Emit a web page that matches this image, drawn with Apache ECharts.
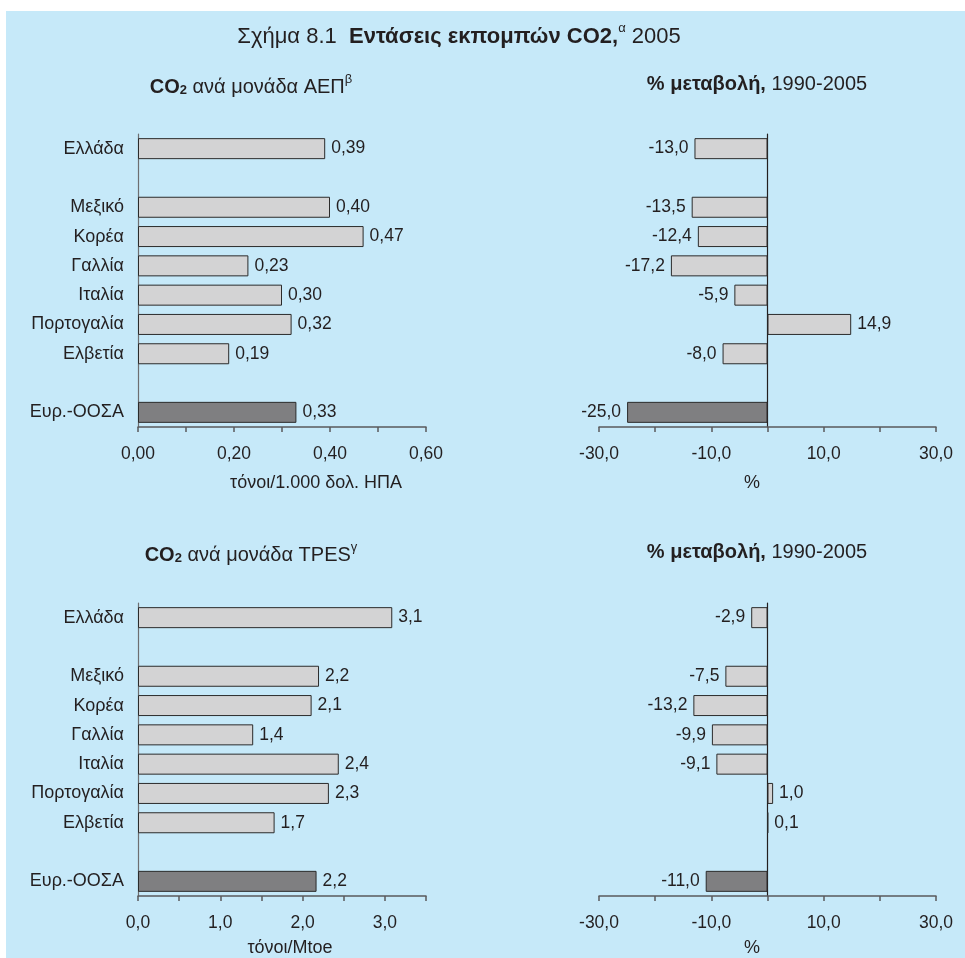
<!DOCTYPE html>
<html>
<head>
<meta charset="utf-8">
<script src="https://cdn.jsdelivr.net/npm/echarts@6/dist/echarts.min.js"></script>
<style>
  html, body { margin: 0; padding: 0; background: #fff; }
  #main { width: 965px; height: 958px; }
</style>
</head>
<body>
<div id="main"></div>
<script>
// Σχήμα 8.1 - δεδομένα
var countries = ['Ελλάδα', 'Μεξικό', 'Κορέα', 'Γαλλία', 'Ιταλία', 'Πορτογαλία', 'Ελβετία', 'Ευρ.-ΟΟΣΑ'];
// θέσεις στον άξονα (με κενά μετά την Ελλάδα και πριν τον ΟΟΣΑ)
var slots = [0, 2, 3, 4, 5, 6, 7, 9];
var gdpIntensity = [0.39, 0.40, 0.47, 0.23, 0.30, 0.32, 0.19, 0.33];
var gdpChange = [-13.0, -13.5, -12.4, -17.2, -5.9, 14.9, -8.0, -25.0];
var tpesIntensity = [3.09, 2.20, 2.11, 1.40, 2.44, 2.32, 1.66, 2.17];
var tpesChange = [-2.9, -7.5, -13.2, -9.9, -9.1, 1.0, 0.1, -11.0];

var textColor = '#231f20';
var fontFamily = 'Liberation Sans, Arial, sans-serif';

var categories = [];
for (var i = 0; i < 10; i++) categories.push(' '.repeat(i + 1));
slots.forEach(function (s, k) { categories[s] = countries[k]; });

function comma(v, d) {
    return v.toFixed(d).replace('.', ',');
}

function buildData(values, decimals) {
    var out = [];
    for (var i = 0; i < 10; i++) out.push('-');
    values.forEach(function (v, k) {
        var last = k === values.length - 1;
        out[slots[k]] = {
            value: v,
            itemStyle: { color: last ? '#7f7f81' : '#d3d3d4' },
            label: { position: v < 0 ? 'left' : 'right', formatter: comma(v, decimals) }
        };
    });
    return out;
}

var grids = [
    { left: 138, top: 134, width: 288, height: 293 },
    { left: 599, top: 134, width: 337, height: 293 },
    { left: 138, top: 603, width: 288, height: 293 },
    { left: 599, top: 603, width: 337, height: 293 }
];

function xAxisFor(idx, min, max, interval, showFn, dec) {
    return {
        type: 'value', gridIndex: idx, min: min, max: max, interval: interval,
        splitLine: { show: false },
        axisLine: { show: true, lineStyle: { color: '#5a5a5c', width: 1.5 } },
        axisTick: { show: true, length: 5, lineStyle: { color: '#5a5a5c', width: 1.5 } },
        axisLabel: {
            color: textColor, fontSize: 17.5, fontFamily: fontFamily, margin: 18,
            formatter: function (v) { return showFn(v) ? comma(v, dec) : ''; }
        }
    };
}

function yAxisFor(idx, showLabels, lineColor) {
    return {
        type: 'category', gridIndex: idx, data: categories, inverse: true,
        axisTick: { show: false },
        axisLine: { show: true, onZero: true, lineStyle: { color: lineColor, width: 1.2 } },
        axisLabel: {
            show: showLabels, color: textColor, fontSize: 18, fontFamily: fontFamily,
            margin: 14, interval: 0
        }
    };
}

function barSeries(idx, values, dec) {
    return {
        type: 'bar', xAxisIndex: idx, yAxisIndex: idx, barWidth: 21,
        data: buildData(values, dec),
        itemStyle: { borderColor: '#2b2b2b', borderWidth: 1 },
        label: { show: true, distance: 6, color: textColor, fontSize: 17.5, fontFamily: fontFamily },
        emphasis: { disabled: true },
        animation: false
    };
}

function subTitle(x, y, text) {
    return {
        type: 'text', x: x, y: y,
        style: {
            text: text, align: 'center', verticalAlign: 'middle', fill: textColor,
            rich: {
                b: { fontSize: 20, fontWeight: 'bold', fontFamily: fontFamily, fill: textColor, lineHeight: 24, verticalAlign: 'bottom' },
                n: { fontSize: 20, fontFamily: fontFamily, fill: textColor, lineHeight: 24, verticalAlign: 'bottom' },
                sub: { fontSize: 13, fontWeight: 'bold', fontFamily: fontFamily, fill: textColor, lineHeight: 14, verticalAlign: 'bottom' },
                sup: { fontSize: 13, fontFamily: fontFamily, fill: textColor, lineHeight: 10, verticalAlign: 'top' }
            }
        }
    };
}

function axisName(x, y, text) {
    return {
        type: 'text', x: x, y: y,
        style: {
            text: text, align: 'center', verticalAlign: 'middle', fill: textColor,
            font: '18px ' + fontFamily
        }
    };
}

var myChart = echarts.init(document.getElementById('main'), null, { renderer: 'canvas' });

var option = {
    backgroundColor: '#ffffff',
    animation: false,
    graphic: [
        { type: 'rect', shape: { x: 6, y: 11, width: 959, height: 947 }, style: { fill: '#c6e9f9' }, z: -10 },
        {
            type: 'text', x: 459, y: 35,
            style: {
                text: '{n|Σχήμα 8.1  }{b|Εντάσεις εκπομπών CO2,}{s|α}{n| 2005}',
                align: 'center', verticalAlign: 'middle',
                rich: {
                    n: { fontSize: 22, fontFamily: fontFamily, fill: textColor, lineHeight: 26, verticalAlign: 'bottom' },
                    b: { fontSize: 22, fontWeight: 'bold', fontFamily: fontFamily, fill: textColor, lineHeight: 26, verticalAlign: 'bottom' },
                    s: { fontSize: 13, fontFamily: fontFamily, fill: textColor, lineHeight: 12, verticalAlign: 'top' }
                }
            }
        },
        subTitle(251, 85, '{b|CO}{sub|2}{n| ανά μονάδα ΑΕΠ}{sup|β}'),
        subTitle(757, 82, '{b|% μεταβολή,}{n| 1990-2005}'),
        subTitle(251, 553, '{b|CO}{sub|2}{n| ανά μονάδα TPES}{sup|γ}'),
        subTitle(757, 550, '{b|% μεταβολή,}{n| 1990-2005}'),
        axisName(316, 483, 'τόνοι/1.000 δολ. ΗΠΑ'),
        axisName(752, 483, '%'),
        axisName(290, 948, 'τόνοι/Mtoe'),
        axisName(752, 948, '%')
    ],
    grid: grids,
    xAxis: [
        xAxisFor(0, 0, 0.6, 0.1, function (v) { return Math.round(v * 10) % 2 === 0; }, 2),
        xAxisFor(1, -30, 30, 10, function (v) { return Math.abs(Math.round(v / 10)) % 2 === 1; }, 1),
        xAxisFor(2, 0, 3.5, 0.5, function (v) { return Math.round(v * 2) % 2 === 0; }, 1),
        xAxisFor(3, -30, 30, 10, function (v) { return Math.abs(Math.round(v / 10)) % 2 === 1; }, 1)
    ],
    yAxis: [
        yAxisFor(0, true, '#6d6e71'),
        yAxisFor(1, false, '#231f20'),
        yAxisFor(2, true, '#6d6e71'),
        yAxisFor(3, false, '#231f20')
    ],
    series: [
        barSeries(0, gdpIntensity, 2),
        barSeries(1, gdpChange, 1),
        barSeries(2, tpesIntensity, 1),
        barSeries(3, tpesChange, 1)
    ]
};

myChart.setOption(option);
</script>
</body>
</html>
